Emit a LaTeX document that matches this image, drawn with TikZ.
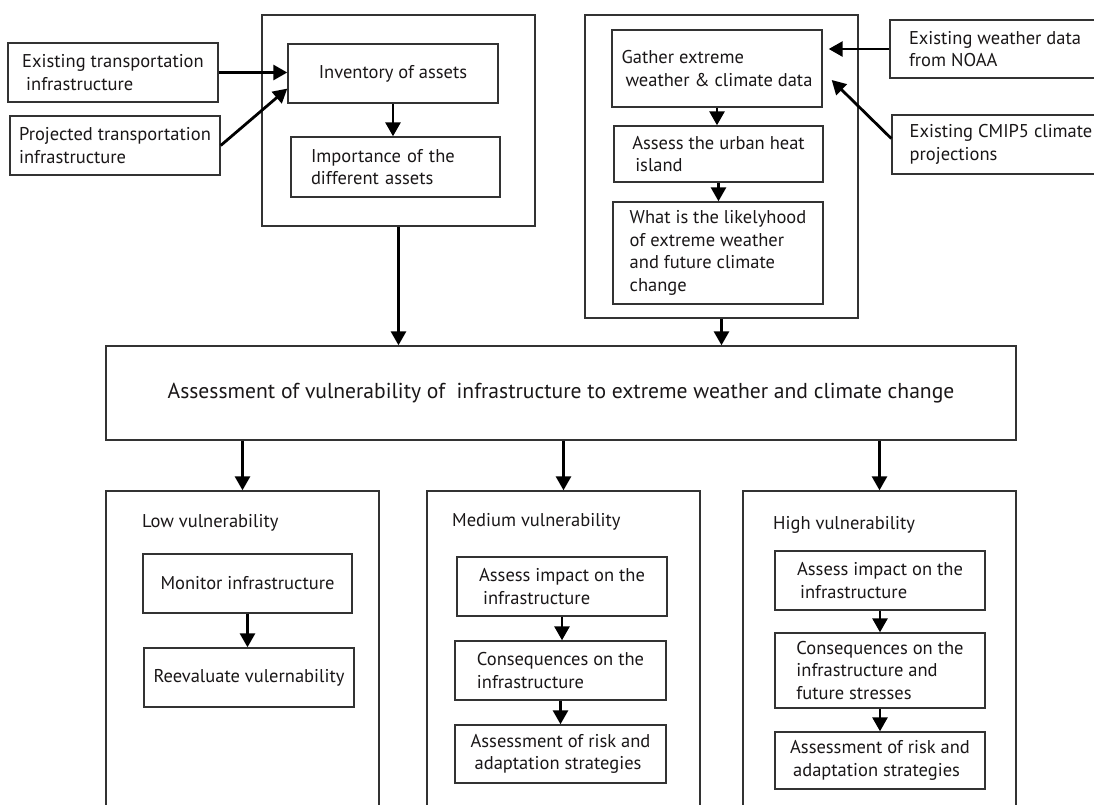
\documentclass[tikz,border=0pt]{standalone}
\usepackage{fontspec}
\setmainfont{PT Sans}
\usetikzlibrary{arrows.meta,calc}
\definecolor{ink}{HTML}{1A1718}
\definecolor{edge}{HTML}{333333}
\tikzset{
  bx/.style={draw=edge, line width=1.4pt, align=left, inner sep=0pt, text=ink,
    font=\fontsize{18.5}{22.5}\selectfont},
  grp/.style={draw=edge, line width=1.4pt, inner sep=0pt},
  arr/.style={draw=black, line width=2.8pt, -{Triangle[length=14pt,width=15pt]}},
  ttl/.style={anchor=west, inner sep=0pt, text=ink, font=\fontsize{18.5}{22.5}\selectfont},
}
\begin{document}
\begin{tikzpicture}[x=1pt,y=-1pt]
\useasboundingbox (0,0) rectangle (1094,804);
\fill[white] (0,0) rectangle (1094,804);
\clip (0,0) rectangle (1094,804);

% group frames
\node[grp, minimum width=273pt, minimum height=211pt] (lgrp) at (398.5,120.5) {};
\node[grp, minimum width=273pt, minimum height=303pt] (rgrp) at (721.5,166.5) {};
\node[grp, minimum width=273pt, minimum height=339pt] (low) at (242.5,660.5) {};
\node[grp, minimum width=273pt, minimum height=339pt] (med) at (563.5,660.5) {};
\node[grp, minimum width=273pt, minimum height=339pt] (high) at (879.5,660.5) {};

% main box
\node[bx, minimum width=910pt, minimum height=94pt, font=\fontsize{21.6}{25}\selectfont] (main) at (561,393)
  {Assessment of vulnerability of\ \ infrastructure to extreme weather and climate change};

% top left
\node[bx, minimum width=210pt, minimum height=59pt] (ext) at (113,72.5)
  {Existing transportation\\\hspace*{4pt}infrastructure};
\node[bx, minimum width=210pt, minimum height=59pt] (proj) at (115,145.5)
  {Projected transportation\\infrastructure};
\node[bx, minimum width=210pt, minimum height=59pt] (inv) at (393,73.5)
  {Inventory of assets};
\node[bx, minimum width=209pt, minimum height=60pt, text width=169pt] (imp) at (395.5,167)
  {Importance of the\\different assets};

% top right
\node[bx, minimum width=210pt, minimum height=77pt] (gath) at (717,68.5)
  {Gather extreme\\\hspace*{4pt}weather \& climate data};
\node[bx, minimum width=209pt, minimum height=56pt] (heat) at (718.5,154)
  {Assess the urban heat\\\hspace*{3pt}island};
\node[bx, minimum width=210pt, minimum height=102pt] (like) at (718,253)
  {What is the likelyhood\\of extreme weather\\and future climate\\change};
\node[bx, minimum width=210pt, minimum height=58pt] (noaa) at (995,49)
  {Existing weather data\\from NOAA};
\node[bx, minimum width=218pt, minimum height=59pt] (cmip) at (1001,144.5)
  {Existing CMIP5 climate\\projections};

% lower groups
\node[ttl] (lowt) at (142,523) {Low vulnerability};
\node[ttl] (medt) at (452,522) {Medium vulnerability};
\node[ttl] (hight) at (773,525) {High vulnerability};

\node[bx, minimum width=209pt, minimum height=59pt] (mon) at (247.5,583.5) {Monitor infrastructure};
\node[bx, minimum width=210pt, minimum height=59pt] (reev) at (249,677.5) {Reevaluate vulernability};

\node[bx, minimum width=210pt, minimum height=59pt] (mA) at (562,586.5)
  {Assess impact on the\\\hspace*{4pt}infrastructure};
\node[bx, minimum width=211pt, minimum height=59pt] (mC) at (560.5,670.5)
  {Consequences on the\\infrastructure};
\node[bx, minimum width=211pt, minimum height=58pt] (mR) at (560.5,754)
  {Assessment of risk and\\\hspace*{4pt}adaptation strategies};

\node[bx, minimum width=210pt, minimum height=59pt] (hA) at (880,580.5)
  {Assess impact on the\\\hspace*{3pt}infrastructure};
\node[bx, minimum width=210pt, minimum height=75pt] (hC) at (880,670.5)
  {Consequences on the\\infrastructure and\\future stresses};
\node[bx, minimum width=210pt, minimum height=57pt] (hR) at (880,760.5)
  {Assessment of risk and\\\hspace*{3pt}adaptation strategies};

% arrows
\draw[arr] (ext.east) -- (ext.east -| inv.west);
\draw[arr] (proj.east) -- ($(inv.south west)!0.25!(inv.north west)$);
\draw[arr] (inv.south) -- (inv.south |- imp.north);
\draw[arr] (noaa.west) -- ($(gath.east |- noaa.west)+(6,0)$);
\draw[arr] ($(cmip.west)+(0,-6)$) -- ($(gath.east)+(9,11.5)$);
\draw[arr] (gath.south) -- (gath.south |- heat.north);
\draw[arr] (heat.south) -- (heat.south |- like.north);
\draw[arr] (lgrp.south) -- (lgrp.south |- main.north);
\draw[arr] (rgrp.south) -- (rgrp.south |- main.north);
\draw[arr] (main.south -| low.north) -- (low.north);
\draw[arr] (main.south -| med.north) -- (med.north);
\draw[arr] (main.south -| high.north) -- (high.north);
\draw[arr] (mon.south) -- (mon.south |- reev.north);
\draw[arr] (mA.south) -- (mA.south |- mC.north);
\draw[arr] (mC.south) -- (mC.south |- mR.north);
\draw[arr] (hA.south) -- (hA.south |- hC.north);
\draw[arr] (hC.south) -- (hC.south |- hR.north);
\end{tikzpicture}
\end{document}
